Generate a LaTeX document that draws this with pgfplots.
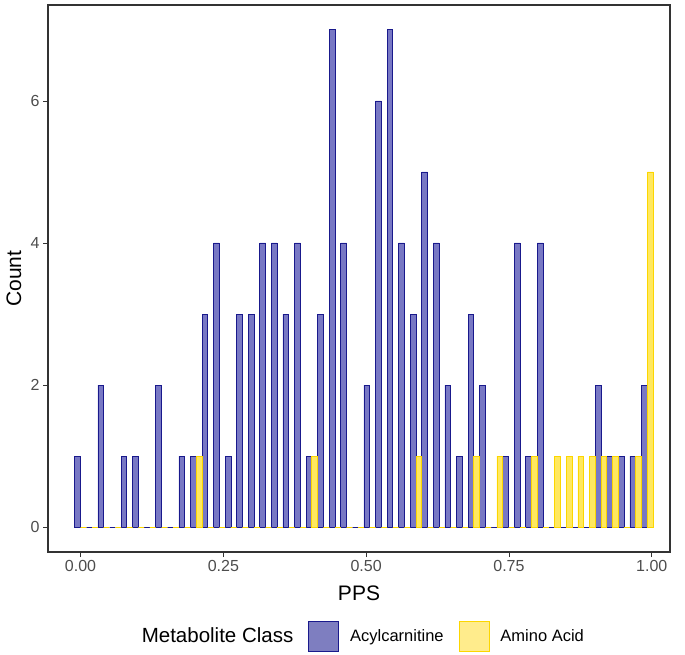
\documentclass[border=0pt]{standalone}
\usepackage{pgfplots}
\pgfplotsset{compat=1.18}
\usepackage{pgfplotstable}
\usepackage{fontspec}
\setmainfont{Liberation Sans}
\definecolor{blueF}{RGB}{120,120,196}
\definecolor{blueD}{RGB}{25,25,140}
\definecolor{yelF}{RGB}{255,232,95}
\definecolor{yelD}{RGB}{252,214,0}
\definecolor{yelLF}{RGB}{255,236,140}
\definecolor{blueLF}{RGB}{126,126,192}
\definecolor{grey20}{RGB}{51,51,51}
\definecolor{grey30}{RGB}{77,77,77}
\pgfplotstableread{
x acyl amino
0.0000 1 0
0.0203 0 0
0.0405 2 0
0.0608 0 0
0.0810 1 0
0.1013 1 0
0.1215 0 0
0.1418 2 0
0.1620 0 0
0.1823 1 0
0.2025 1 1
0.2228 3 0
0.2430 4 0
0.2633 1 0
0.2835 3 0
0.3038 3 0
0.3240 4 0
0.3443 4 0
0.3645 3 0
0.3848 4 0
0.4050 1 1
0.4253 3 0
0.4455 7 0
0.4658 4 0
0.4860 0 0
0.5063 2 0
0.5265 6 0
0.5468 7 0
0.5670 4 0
0.5873 3 1
0.6075 5 0
0.6278 4 0
0.6480 2 0
0.6683 1 0
0.6885 3 1
0.7088 2 0
0.7290 0 1
0.7493 1 0
0.7695 4 0
0.7898 1 1
0.8100 4 0
0.8303 0 1
0.8505 0 1
0.8708 0 1
0.8910 0 1
0.9113 2 1
0.9315 1 1
0.9518 1 0
0.9720 1 1
0.9923 2 5
}\bins
\begin{document}
\begin{tikzpicture}
\useasboundingbox (-48pt,-102pt) rectangle (637pt,552pt);
\begin{axis}[
  at={(0pt,0pt)}, anchor=south west,
  scale only axis,
  width=622pt, height=547pt,
  xmin=-0.057, xmax=1.032,
  ymin=-0.35, ymax=7.35,
  axis line style={grey20, line width=1.1pt},
  tick style={grey20, line width=0.8pt},
  tick align=outside,
  major tick length=5pt,
  xtick={0,0.25,0.5,0.75,1},
  xticklabels={0.00,0.25,0.50,0.75,1.00},
  ytick={0,2,4,6},
  yticklabels={0,2,4,6},
  xtick pos=bottom, ytick pos=left,
  ticklabel style={font=\fontsize{16}{16}\selectfont, text=grey30},
  xlabel={PPS}, ylabel={Count},
  xlabel style={font=\fontsize{21}{21}\selectfont, at={(axis description cs:0.5,-0.075)}, anchor=center},
  ylabel style={font=\fontsize{21}{21}\selectfont, at={(axis description cs:-0.055,0.5)}, anchor=center},
  legend style={at={(axis description cs:0.499,-0.154)}, anchor=center, draw=none,
    legend columns=-1, font=\fontsize{16.5}{16.5}\selectfont,
    /tikz/every odd column/.append style={column sep=9pt},
    /tikz/every even column/.append style={column sep=13pt}},
  ybar, bar width=0.0101,
]
\addlegendimage{empty legend}
\addlegendentry{\fontsize{20.5}{20.5}\selectfont Metabolite Class}
\addplot[ybar, bar shift=0pt, fill=blueF, draw=blueD, line width=0.8pt,
  legend image code/.code={\draw[fill=blueLF, draw=blueD, line width=0.8pt] (-6pt,-15pt) rectangle (24pt,15pt);}]
  table[x expr=\thisrow{x}-0.00506, y=acyl] {\bins};
\addlegendentry{Acylcarnitine}
\addplot[ybar, bar shift=0pt, fill=yelF, draw=yelD, line width=0.8pt,
  legend image code/.code={\draw[fill=yelLF, draw=yelD, line width=0.8pt] (-6pt,-15pt) rectangle (24pt,15pt);}]
  table[x expr=\thisrow{x}+0.00506, y=amino] {\bins};
\addlegendentry{Amino Acid}
\end{axis}
\end{tikzpicture}
\end{document}
